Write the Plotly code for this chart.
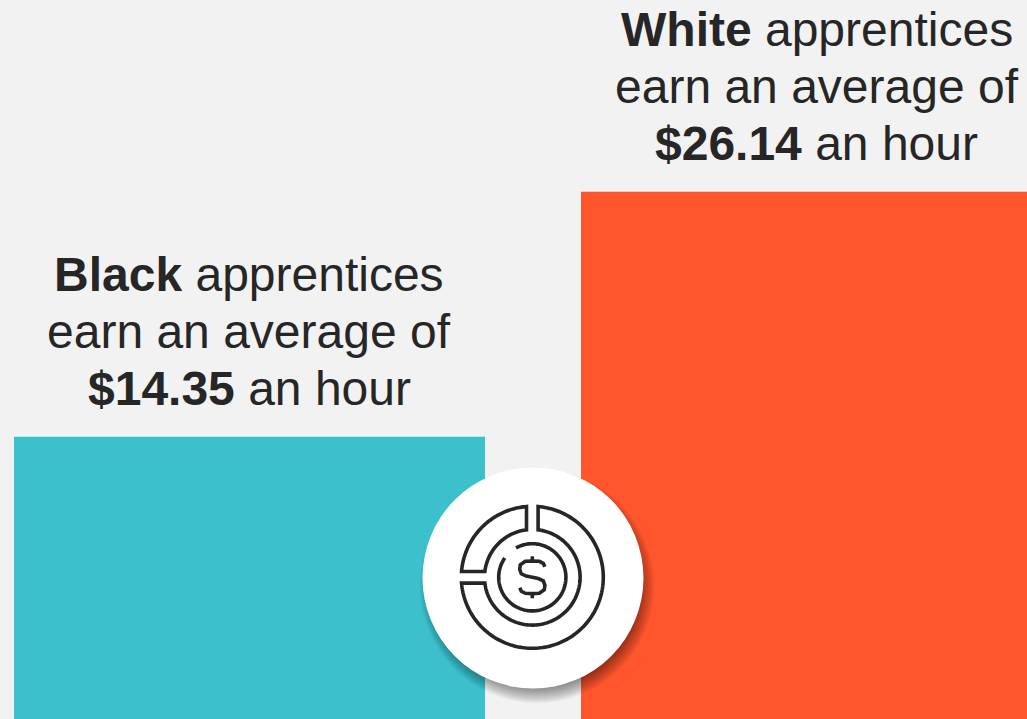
import numpy as np
import plotly.graph_objects as go

# Average hourly apprentice wages by group
groups = ["Black", "White"]
wages = [14.35, 26.14]
bar_colors = ["#3CC0CC", "#FF562E"]

W, H = 1027, 719
INK = "#262626"


def px(x, y):
    """Convert page pixels to paper coordinates."""
    return x / W, 1 - y / H


def to_path(points, close=False):
    parts = []
    for i, (x, y) in enumerate(points):
        u, v = px(x, y)
        parts.append(f"{'M' if i == 0 else 'L'}{u:.5f},{v:.5f}")
    return "".join(parts) + ("Z" if close else "")


def arc(cx, cy, r, a0, a1, n=80):
    """Points along a circle; angles in degrees, clockwise from 12 o'clock."""
    t = np.radians(np.linspace(a0, a1, n))
    return list(zip(cx + r * np.sin(t), cy - r * np.cos(t)))


def circle_shape(cx, cy, r, **kw):
    x0, y1 = px(cx - r, cy - r)
    x1, y0 = px(cx + r, cy + r)
    return dict(type="circle", xref="paper", yref="paper", x0=x0, x1=x1, y0=y0, y1=y1, layer="above", **kw)


def stroke(points, close=False):
    return dict(type="path", xref="paper", yref="paper", path=to_path(points, close), layer="above",
                line=dict(color=INK, width=3.6), fillcolor="rgba(0,0,0,0)")


fig = go.Figure(
    go.Bar(x=[0, 1], y=wages, width=0.8307, marker=dict(color=bar_colors, line=dict(width=0)), hoverinfo="skip")
)

# Badge centre and soft drop shadow
BX, BY, BR = 533, 578, 110.5
shapes = []
for k in range(24):
    shapes.append(circle_shape(BX + 4, BY + 8, BR + 7 - k * 0.8, fillcolor="rgba(0,0,0,0.022)", line=dict(width=0)))
shapes.append(circle_shape(BX, BY, BR, fillcolor="#FFFFFF", line=dict(width=0)))

# Icon: segmented ring around a coin
IX, IY = 532.3, 577.3
R_OUT, R_MID, R_IN = 71, 47.8, 33.6
gap = 5.8  # half-width of the gaps between ring segments, in pixels


def ang(r, offset):
    return np.degrees(np.arcsin(offset / r))


# Large segment, clockwise from the top gap round to the left gap
big = arc(IX, IY, R_OUT, ang(R_OUT, gap), 270 - ang(R_OUT, gap), 140)
big += arc(IX, IY, R_MID, 270 - ang(R_MID, gap), ang(R_MID, gap), 140)
shapes.append(stroke(big, close=True))

# Small segment in the upper left
small = arc(IX, IY, R_OUT, -ang(R_OUT, gap), -90 + ang(R_OUT, gap), 60)
small += arc(IX, IY, R_MID, -90 + ang(R_MID, gap), -ang(R_MID, gap), 60)
shapes.append(stroke(small, close=True))

# Coin outline with its opening at the upper left
shapes.append(stroke(arc(IX, IY, R_IN, -29, 305, 160)))

# Dollar sign
sx = lambda dx: IX + dx
sy = lambda dy: IY + dy
dollar_pts = [
    (12.5, -10.5), (11, -14), (7, -16), (0, -16.3), (-7, -16), (-12, -12.5), (-12.6, -8),
    (-11, -3.5), (-6, -1.2), (0, 0), (6, 1.2), (11, 3.5), (12.6, 8), (12, 12.5),
    (7, 16), (0, 16.3), (-7, 16), (-11, 14), (-12.5, 10.5),
]
shapes.append(stroke([(sx(a), sy(b)) for a, b in dollar_pts]))
shapes.append(stroke([(sx(0), sy(-21)), (sx(0), sy(-16.3))]))
shapes.append(stroke([(sx(0), sy(16.3)), (sx(0), sy(21))]))

# Three-line caption over each bar, set line by line for tight leading
annotations = []
for i, (g, v) in enumerate(zip(groups, wages)):
    lines = [f"<b>{g}</b> apprentices", "earn an average of", f"<b>${v:.2f}</b> an hour"]
    for j, line in enumerate(lines):
        annotations.append(dict(
            x=i, y=v, xref="x", yref="y", yanchor="bottom", xanchor="center",
            yshift=20 + 57 * (2 - j), text=line, showarrow=False, align="center",
            font=dict(family="Liberation Sans, Arial, sans-serif", size=48, color=INK),
        ))

fig.update_layout(
    width=W, height=H, autosize=False,
    margin=dict(l=0, r=0, t=0, b=0),
    paper_bgcolor="#F2F2F2", plot_bgcolor="#F2F2F2",
    showlegend=False,
    xaxis=dict(visible=False, range=[-0.44, 1.3712], fixedrange=True),
    yaxis=dict(visible=False, range=[0.77, 35.37], fixedrange=True),
    shapes=shapes, annotations=annotations,
)

fig.write_html("out.html", config=dict(displayModeBar=False))
